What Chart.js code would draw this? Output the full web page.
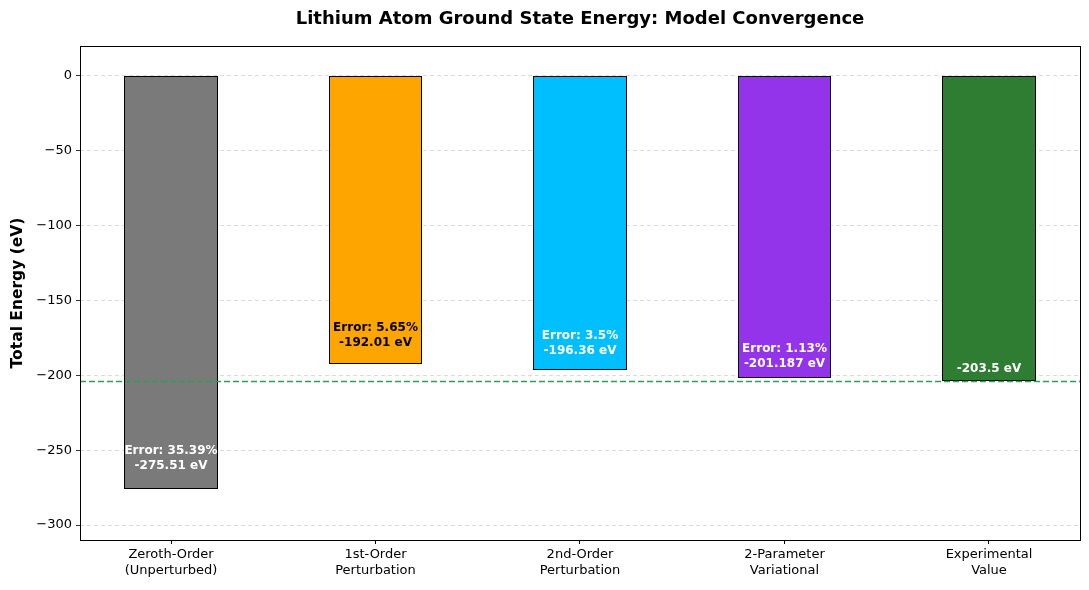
<!DOCTYPE html>
<html>
<head>
<meta charset="utf-8">
<script src="https://cdn.jsdelivr.net/npm/chart.js@4.4.1/dist/chart.umd.min.js"></script>
<style>
    html, body { margin: 0; padding: 0; background: #fff; }
    #wrap { width: 1089px; height: 590px; }
</style>
</head>
<body>
<div id="wrap"><canvas id="chart" width="1089" height="590"></canvas></div>
<script>
// data
const categories = [['Zeroth-Order', '(Unperturbed)'], ['1st-Order', 'Perturbation'], ['2nd-Order', 'Perturbation'], ['2-Parameter', 'Variational'], ['Experimental', 'Value']];
const energies = [-275.51, -192.01, -196.36, -201.187, -203.5];
const errors = [35.39, 5.65, 3.5, 1.13, null];
const experimental = -203.5;
const yTicks = [0, -50, -100, -150, -200, -250, -300];
const barColors = ['#7a7a7a', '#ffa500', '#00bfff', '#9333ea', '#2e7d32'];
const textColors = ['#fff', '#000', '#fff', '#fff', '#fff'];

const FONT = "'DejaVu Sans', sans-serif";
const minus = s => String(s).replace('-', '\u2212');
// how far above the bar end the last label line sits (px)
const labelLift = [22, 20, 19, 13, 12];

const overlay = {
    id: 'overlay',
    afterDatasetsDraw(chart) {
        const ctx = chart.ctx;
        const area = chart.chartArea;
        const y = chart.scales.y;
        const meta = chart.getDatasetMeta(0);

        // bar outlines, pixel aligned on the outermost filled pixels
        ctx.save();
        ctx.strokeStyle = '#000';
        ctx.lineWidth = 1;
        meta.data.forEach(bar => {
            const p = bar.getProps(['x', 'y', 'base', 'width']);
            const l = Math.floor(p.x - p.width / 2) + 0.5;
            const r = Math.ceil(p.x + p.width / 2) - 0.5;
            const t = Math.floor(Math.min(p.y, p.base)) + 0.5;
            const b = Math.ceil(Math.max(p.y, p.base)) - 0.5;
            ctx.strokeRect(l, t, r - l, b - t);
        });
        ctx.restore();

        // experimental reference line
        ctx.save();
        ctx.strokeStyle = '#2ca05a';
        ctx.lineWidth = 1.5;
        ctx.setLineDash([6, 3]);
        const py = Math.round(y.getPixelForValue(experimental)) + 0.5;
        ctx.beginPath();
        ctx.moveTo(area.left, py);
        ctx.lineTo(area.right, py);
        ctx.stroke();
        ctx.restore();

        // bar labels
        ctx.save();
        ctx.font = 'bold 12px ' + FONT;
        ctx.textAlign = 'center';
        ctx.textBaseline = 'middle';
        meta.data.forEach((bar, i) => {
            ctx.fillStyle = textColors[i];
            const v = energies[i];
            const last = y.getPixelForValue(v) - labelLift[i];
            if (errors[i] !== null) {
                ctx.fillText('Error: ' + errors[i] + '%', bar.x, last - 15);
            }
            ctx.fillText(v + ' eV', bar.x, last);
        });
        ctx.restore();

        // frame
        ctx.save();
        ctx.strokeStyle = '#000';
        ctx.lineWidth = 1;
        ctx.strokeRect(area.left + 0.5, area.top + 0.5, area.right - area.left, area.bottom - area.top);
        ctx.restore();

        // title
        ctx.save();
        ctx.font = 'bold 18px ' + FONT;
        ctx.fillStyle = '#000';
        ctx.textAlign = 'center';
        ctx.textBaseline = 'middle';
        ctx.fillText('Lithium Atom Ground State Energy: Model Convergence', (area.left + area.right) / 2, 19);
        ctx.restore();
    }
};

const ctx = document.getElementById('chart').getContext('2d');
new Chart(ctx, {
    type: 'bar',
    data: {
        datasets: [{
            data: energies.map((v, i) => ({ x: i, y: v })),
            backgroundColor: barColors,
            borderWidth: 0,
            barPercentage: 0.45,
            categoryPercentage: 1.0
        }]
    },
    options: {
        responsive: false,
        animation: false,
        layout: { padding: { top: 46, right: 9, left: 0, bottom: 0 } },
        plugins: {
            legend: { display: false },
            tooltip: { enabled: false }
        },
        scales: {
            x: {
                type: 'linear',
                offset: false,
                min: -0.445,
                max: 4.445,
                afterBuildTicks: s => { s.ticks = categories.map((c, i) => ({ value: i })); },
                afterFit: s => { s.height = 50; },
                grid: { color: 'transparent', tickColor: '#000', tickLength: 4, drawOnChartArea: false, offset: false },
                border: { display: false },
                ticks: {
                    color: '#000',
                    font: { size: 13, family: FONT },
                    padding: 3,
                    maxRotation: 0,
                    autoSkip: false,
                    callback: v => categories[v]
                }
            },
            y: {
                min: -310,
                max: 20,
                afterBuildTicks: s => { s.ticks = yTicks.map(v => ({ value: v })); },
                afterFit: s => { s.width = 80; },
                grid: { color: 'rgba(0,0,0,0.18)', tickColor: '#000', tickLength: 4, lineWidth: 0.8 },
                border: { display: false, dash: [4, 3] },
                ticks: {
                    color: '#000',
                    font: { size: 13, family: FONT },
                    padding: 4,
                    callback: v => minus(v)
                },
                title: {
                    display: true,
                    text: 'Total Energy (eV)',
                    color: '#000',
                    font: { size: 15.5, weight: 'bold', family: FONT },
                    padding: { top: 9, bottom: 0 }
                }
            }
        }
    },
    plugins: [overlay]
});
</script>
</body>
</html>
